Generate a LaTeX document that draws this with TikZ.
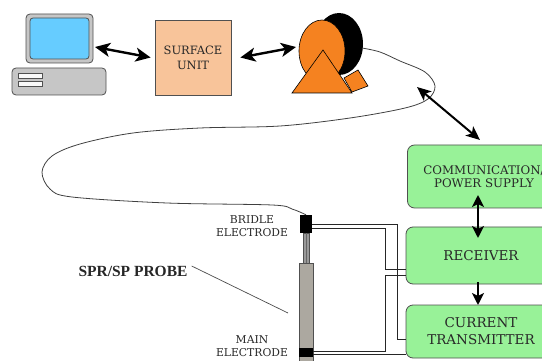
\documentclass[tikz,border=0pt]{standalone}
\usepackage{fontspec}
\setmainfont{DejaVu Serif}
\newfontfamily\probefont{Liberation Serif}
\usetikzlibrary{arrows.meta}

\definecolor{screenblue}{RGB}{102,204,255}
\definecolor{casegray}{RGB}{198,198,198}
\definecolor{edgegray}{RGB}{80,80,80}
\definecolor{unitfill}{RGB}{248,196,154}
\definecolor{reelorange}{RGB}{245,130,32}
\definecolor{boxgreen}{RGB}{152,242,152}
\definecolor{probegray}{RGB}{172,168,160}
\definecolor{textdark}{RGB}{40,40,40}

\tikzset{
  thickarrow/.style={line width=2.4pt, {Stealth[length=15pt,width=14pt,inset=4pt]}-{Stealth[length=15pt,width=14pt,inset=4pt]}},
  downarrow/.style={line width=2.4pt, -{Stealth[length=12pt,width=12pt,inset=3pt]}},
  greenbox/.style={draw=edgegray, line width=0.8pt, fill=boxgreen, rounded corners=7pt,
    text=textdark, align=center, inner sep=0pt},
  smalltext/.style={font=\fontsize{10.8}{13}\selectfont, text=textdark, align=center, inner sep=0pt},
  bigtext/.style={font=\fontsize{13.5}{17}\selectfont},
  wire/.style={draw=black!85, line width=0.7pt},
  cable/.style={draw=black!75, line width=0.8pt},
  outline/.style={draw=edgegray, line width=0.8pt},
}

\begin{document}
\begin{tikzpicture}[x=1pt,y=-1pt]
\useasboundingbox (0,0) rectangle (542,361);
\clip (0,0) rectangle (542,361);

% ---- computer ----
\draw[outline, fill=casegray, rounded corners=4pt] (26,14) rectangle (93,63);
\draw[outline, fill=screenblue, rounded corners=3pt] (30,18) rectangle (89,59);
\draw[outline, fill=casegray, rounded corners=4pt] (12,68) rectangle (106,95);
\draw[outline, fill=white!90!casegray] (18,73) rectangle (42,78);
\draw[outline, fill=white!90!casegray] (18,81) rectangle (42,86);
\coordinate (pc) at (95,47);

% ---- surface unit ----
\node[draw=edgegray, line width=0.8pt, fill=unitfill, minimum width=76pt, minimum height=75pt,
      smalltext, font=\fontsize{11.5}{15}\selectfont] (unit) at (193,57.5) {SURFACE\\UNIT};

% ---- cable reel ----
\fill[black] (339,44) ellipse [x radius=24, y radius=31];
\draw[black, line width=0.6pt, fill=reelorange] (344,78) -- (358,70) -- (368,86) -- (352,92) -- cycle;
\draw[black, line width=0.6pt, fill=reelorange] (322,51) ellipse [x radius=23, y radius=31];
\draw[black, line width=0.6pt, fill=reelorange] (323,50) -- (352,93) -- (292,93) -- cycle;
\coordinate (reel) at (296,47);
\coordinate (drum) at (362,48);

\draw[thickarrow] (pc) -- ([xshift=-4pt]unit.west);
\draw[thickarrow] ([xshift=9pt]unit.east) -- (reel);

% ---- down-hole boxes ----
\node[greenbox, minimum width=153pt, minimum height=63pt, font=\fontsize{11.8}{13.5}\selectfont]
  (comm) at (484,176.5) {COMMUNICATION/\\POWER SUPPLY};
\node[greenbox, minimum width=150pt, minimum height=57pt, bigtext]
  (rx) at (481,255.5) {RECEIVER};
\node[greenbox, minimum width=150pt, minimum height=53pt, bigtext]
  (tx) at (481,331.5) {CURRENT\\TRANSMITTER};

% ---- probe ----
\draw[outline, fill=probegray] (299,263) rectangle (313,366);
\fill[black] (299,348) rectangle (313,357);
\draw[outline, fill=gray!80] (303,233) rectangle (309,263);
\draw[black!60, line width=0.6pt] (306,233) -- (306,263);
\node[fill=black, minimum width=12pt, minimum height=18pt, inner sep=0pt] (bridle) at (306,224) {};
\coordinate (mainel) at (313,352.5);

% ---- logging cable from reel to bridle ----
\draw[cable] plot[smooth, tension=0.55] coordinates {
  (drum) (380,52) (400,61) (425,72) (435,86) (428,99) (405,108) (350,118)
  (280,126) (200,128) (133,133) (80,144) (52,156) (42,172) (50,189) (72,197)
  (167,203) (272,205) (292,209) (bridle.north)};

% ---- telemetry arrow at the cable head ----
\coordinate (loop) at (417,87);
\coordinate (commtop) at (480,140);
\draw[line width=2pt, {Stealth[length=14pt,width=12pt,inset=3.5pt]}-{Stealth[length=14pt,width=12pt,inset=3.5pt]}] (loop) -- (commtop);

\coordinate (c1) at (478,195);
\coordinate (c2) at (478,238);
\draw[line width=2.6pt, {Stealth[length=12pt,width=12pt,inset=3pt]}-{Stealth[length=12pt,width=12pt,inset=3pt]}] (c1) -- (c2);
\coordinate (c3) at (478,282);
\coordinate (c4) at (478,305);
\draw[downarrow] (c3) -- (c4);

% ---- electrode wiring ----
\draw[wire] (bridle.east |- 0,224) -- (397,224) -- (397,339) -- (tx.west |- 0,339);
\draw[wire] (bridle.east |- 0,228.5) -- (385,228.5) -- (385,269) -- (rx.west |- 0,269);
\draw[wire] (mainel |- 0,351) -- (385,351) -- (385,275.5) -- (rx.west |- 0,275.5);
\draw[wire] (mainel |- 0,354.5) -- (tx.west |- 0,354.5);

% ---- labels ----
\node[smalltext] (bridlelabel) at (252,226.5) {BRIDLE\\ELECTRODE};
\node[smalltext] (mainlabel) at (252,346.5) {MAIN\\ELECTRODE};
\node[inner sep=0pt, font=\probefont\bfseries\fontsize{15.5}{18}\selectfont, text=black!85]
  (probelabel) at (133,271) {SPR/SP PROBE};
\coordinate (probept) at (288,313);
\draw[line width=0.7pt, black!70] ([xshift=4pt,yshift=5pt]probelabel.east) -- (probept);
\end{tikzpicture}
\end{document}
